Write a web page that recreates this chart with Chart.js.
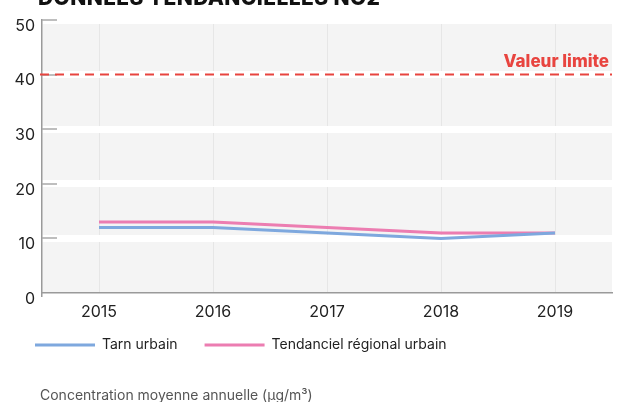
<!DOCTYPE html>
<html lang="fr">
<head>
<meta charset="utf-8">
<script src="https://cdn.jsdelivr.net/npm/chart.js@4/dist/chart.umd.min.js"></script>
<style>
  html, body { margin: 0; padding: 0; background: #fff; overflow: hidden; }
  #wrap { position: relative; width: 624px; height: 402px; }
  #heading {
    position: absolute; left: 38px; top: -13px; margin: 0;
    font: 800 21px "Inter", sans-serif; letter-spacing: 0.4px; color: #111;
    white-space: nowrap; line-height: 21px;
  }
  #note {
    position: absolute; left: 40px; top: 386px; margin: 0;
    font: 400 14px "Inter", sans-serif; color: #555; white-space: nowrap;
    line-height: 18px;
  }
  canvas { position: absolute; left: 0; top: 0; }
</style>
</head>
<body>
<div id="wrap">
  <canvas id="chart" width="624" height="402"></canvas>
  <h2 id="heading">DONNÉES TENDANCIELLES NO2</h2>
  <p id="note">Concentration moyenne annuelle (µg/m³)</p>
</div>
<script>
// Annual mean NO2 concentration, urban stations
const years = ['2015', '2016', '2017', '2018', '2019'];
const tarnUrbain = [12, 12, 11, 10, 11];
const regionalUrbain = [13, 13, 12, 11, 11];
const limitValue = 40;
const limitLabel = 'Valeur limite';

const FONT = '"Inter", sans-serif';

// light grey panel behind the plot
const panelBackground = {
  id: 'panelBackground',
  beforeDraw(chart) {
    const { ctx, chartArea: a } = chart;
    ctx.save();
    ctx.fillStyle = '#f4f4f4';
    ctx.fillRect(a.left, a.top, a.right - a.left, a.bottom - a.top);
    ctx.restore();
  }
};

// short grey tick marks drawn inside the plot along the y axis
const innerTicks = {
  id: 'innerTicks',
  beforeDatasetsDraw(chart) {
    const { ctx, chartArea: a, scales: { y } } = chart;
    ctx.save();
    ctx.strokeStyle = '#a8a8a8';
    ctx.lineWidth = 1.5;
    y.ticks.forEach(t => {
      if (t.value === 0) return;
      const py = Math.round(y.getPixelForValue(t.value));
      ctx.beginPath();
      ctx.moveTo(a.left, py);
      ctx.lineTo(a.left + 15, py);
      ctx.stroke();
    });
    ctx.restore();
  }
};

// dashed regulatory limit with its label
const limitLine = {
  id: 'limitLine',
  afterDatasetsDraw(chart) {
    const { ctx, chartArea: a, scales: { y } } = chart;
    const py = y.getPixelForValue(limitValue);
    ctx.save();
    ctx.strokeStyle = '#e8443f';
    ctx.lineWidth = 2;
    ctx.setLineDash([9, 6]);
    ctx.beginPath();
    ctx.moveTo(a.left - 2, py);
    ctx.lineTo(a.right, py);
    ctx.stroke();
    ctx.setLineDash([]);
    ctx.fillStyle = '#e8443f';
    ctx.font = '800 17px ' + FONT;
    ctx.textAlign = 'right';
    ctx.textBaseline = 'middle';
    ctx.fillText(limitLabel, a.right - 3, py - 13);
    ctx.restore();
  }
};

// keep wide spacing between legend items while sitting the legend closer to the axis
const legendLift = {
  id: 'legendLift',
  afterLayout(chart) {
    const l = chart.legend;
    if (l) { l.top -= 11; l.bottom -= 11; }
  }
};

new Chart(document.getElementById('chart'), {
  type: 'line',
  data: {
    labels: years,
    datasets: [
      {
        label: 'Tarn urbain',
        data: tarnUrbain,
        borderColor: '#7ea8de',
        backgroundColor: '#7ea8de',
        borderWidth: 3,
        pointRadius: 0,
        tension: 0
      },
      {
        label: 'Tendanciel régional urbain',
        data: regionalUrbain,
        borderColor: '#ec7db1',
        backgroundColor: '#ec7db1',
        borderWidth: 3,
        pointRadius: 0,
        tension: 0
      }
    ]
  },
  options: {
    responsive: false,
    devicePixelRatio: 1,
    animation: false,
    layout: { padding: { top: 20, left: 8, right: 12, bottom: 29 } },
    plugins: {
      tooltip: { enabled: false },
      legend: {
        position: 'bottom',
        align: 'start',
        labels: {
          color: '#222',
          font: { family: FONT, size: 14 },
          boxWidth: 60,
          boxHeight: 3,
          padding: 27,
          generateLabels(chart) {
            return chart.data.datasets.map((ds, i) => ({
              text: ds.label,
              fillStyle: ds.borderColor,
              strokeStyle: ds.borderColor,
              lineWidth: 0,
              fontColor: '#222',
              datasetIndex: i
            }));
          }
        }
      }
    },
    scales: {
      x: {
        offset: true,
        grid: { color: '#e6e6e6', lineWidth: 1, drawTicks: false, offset: false },
        border: { color: '#9a9a9a', width: 1.5 },
        ticks: { color: '#222', font: { family: FONT, size: 16 }, padding: 10 },
        afterFit(s) { s.height = 29; }
      },
      y: {
        min: 0,
        max: 50,
        grid: {
          color: ctx => (ctx.tick && ctx.tick.value === 0 ? 'rgba(0,0,0,0)' : '#ffffff'),
          lineWidth: 7,
          drawTicks: false
        },
        border: { color: '#9a9a9a', width: 1.5 },
        ticks: {
          stepSize: 10,
          color: '#222',
          font: { family: FONT, size: 16 },
          padding: 7,
          labelOffset: 6
        },
        afterFit(s) { s.width = 34; }
      }
    }
  },
  plugins: [panelBackground, innerTicks, limitLine, legendLift]
});
</script>
</body>
</html>
